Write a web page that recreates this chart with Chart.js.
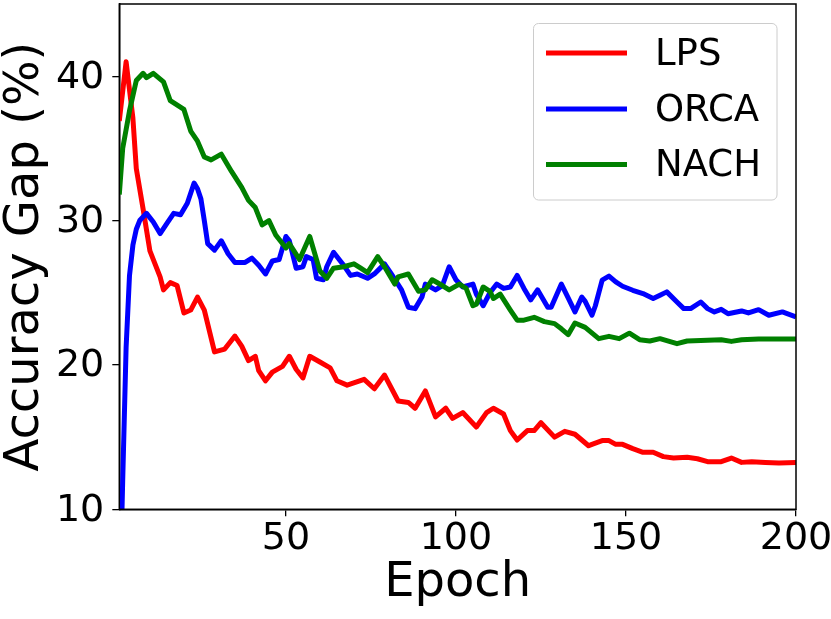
<!DOCTYPE html>
<html>
<head>
<meta charset="utf-8">
<script src="https://cdn.jsdelivr.net/npm/chart.js@4.4.1/dist/chart.umd.min.js"></script>
<style>
  html, body { margin: 0; padding: 0; background: #ffffff; }
  canvas { display: block; }
</style>
</head>
<body>
<canvas id="c" width="831" height="619"></canvas>
<script>
// ---- data ----
const seriesNames = ['LPS', 'ORCA', 'NACH'];
const seriesColors = ['#ff0000', '#0000ff', '#008000'];

const lpsEpochs = [1, 3, 5, 6, 8, 10, 13, 14, 16, 18, 20, 22, 24, 26, 29, 32, 35, 37, 39, 41, 42, 44, 46, 49, 51, 53, 55, 57, 60, 63, 65, 68, 73, 76, 79, 83, 86, 88, 91, 94, 97, 99, 102, 106, 109, 111, 114, 116, 118, 121, 123, 125, 129, 132, 135, 139, 140, 143, 145, 147, 149, 152, 155, 158, 161, 164, 168, 171, 174, 178, 181, 184, 187, 191, 195, 200];
const lpsValues = [36.9, 41.0, 37.1, 33.6, 30.8, 27.9, 26.1, 25.2, 25.7, 25.5, 23.6, 23.8, 24.7, 23.8, 20.9, 21.1, 22.0, 21.3, 20.3, 20.6, 19.6, 18.9, 19.5, 19.9, 20.6, 19.7, 19.1, 20.6, 20.2, 19.8, 18.9, 18.6, 19.0, 18.35, 19.3, 17.5, 17.4, 17.0, 18.2, 16.4, 17.0, 16.3, 16.7, 15.7, 16.7, 17.0, 16.6, 15.45, 14.8, 15.45, 15.45, 16.0, 15.0, 15.4, 15.2, 14.4, 14.5, 14.76, 14.76, 14.5, 14.5, 14.2, 13.95, 13.95, 13.65, 13.55, 13.6, 13.5, 13.3, 13.3, 13.55, 13.25, 13.3, 13.25, 13.2, 13.25];

const orcaEpochs = [1, 2, 3, 4, 5, 6, 7, 9, 11, 13, 15, 17, 19, 21, 23, 24, 25, 26, 27, 29, 31, 33, 35, 38, 40, 42, 44, 46, 48, 50, 51, 53, 55, 56, 58, 59, 61, 62, 64, 66, 67, 69, 71, 74, 76, 79, 81, 84, 86, 88, 90, 91, 94, 96, 98, 100, 102, 105, 106, 108, 110, 112, 114, 116, 118, 120, 122, 124, 127, 128, 131, 133, 135, 137, 138, 140, 141, 143, 145, 147, 149, 152, 155, 158, 160, 162, 165, 167, 169, 172, 174, 176, 178, 180, 184, 186, 189, 192, 196, 200];
const orcaValues = [2.0, 12.0, 21.2, 26.2, 28.3, 29.4, 30.0, 30.5, 29.9, 29.1, 29.8, 30.5, 30.4, 31.2, 32.6, 32.2, 31.5, 30.0, 28.4, 27.95, 28.6, 27.7, 27.1, 27.1, 27.4, 26.9, 26.3, 27.2, 27.3, 28.9, 28.6, 26.7, 26.8, 27.5, 27.3, 26.0, 25.9, 26.8, 27.8, 27.2, 26.9, 26.2, 26.3, 26.0, 26.3, 27.0, 26.3, 25.2, 24.0, 23.9, 24.7, 25.6, 25.2, 25.5, 26.8, 25.9, 25.4, 25.6, 24.9, 24.1, 25.0, 25.6, 25.3, 25.4, 26.2, 25.3, 24.5, 25.2, 24.0, 24.0, 25.6, 24.65, 23.67, 24.7, 24.4, 23.44, 24.1, 25.87, 26.15, 25.75, 25.45, 25.17, 24.94, 24.6, 24.83, 25.06, 24.36, 23.9, 23.9, 24.36, 23.9, 23.67, 23.85, 23.55, 23.74, 23.6, 23.83, 23.44, 23.67, 23.32];

const nachEpochs = [1, 2, 4, 6, 8, 9, 11, 14, 16, 20, 22, 24, 26, 28, 31, 34, 37, 39, 41, 43, 45, 47, 50, 51, 54, 57, 60, 62, 64, 67, 70, 72, 74, 77, 79, 82, 83, 86, 89, 91, 93, 96, 98, 101, 103, 105, 106, 108, 110, 111, 113, 116, 118, 120, 123, 126, 129, 131, 133, 135, 138, 142, 145, 148, 151, 154, 157, 160, 165, 168, 172, 178, 181, 184, 189, 200];
const nachValues = [31.8, 35.0, 37.6, 39.7, 40.2, 39.9, 40.2, 39.6, 38.3, 37.7, 36.2, 35.5, 34.4, 34.2, 34.6, 33.4, 32.3, 31.4, 30.9, 29.7, 30.0, 29.0, 28.1, 28.4, 27.3, 28.9, 26.5, 26.0, 26.7, 26.8, 27.0, 26.7, 26.4, 27.5, 26.8, 25.6, 26.1, 26.3, 25.1, 25.2, 25.9, 25.5, 25.2, 25.6, 25.3, 24.1, 24.2, 25.4, 25.1, 24.6, 24.9, 23.8, 23.1, 23.1, 23.3, 23.0, 22.86, 22.5, 22.1, 22.9, 22.6, 21.82, 21.98, 21.82, 22.2, 21.75, 21.66, 21.82, 21.47, 21.66, 21.7, 21.75, 21.63, 21.75, 21.8, 21.8];

const xTickValues = [50, 100, 150, 200];
const yTickValues = [10, 20, 30, 40];
const xTitle = 'Epoch';
const yTitle = 'Accuracy Gap (%)';

// ---- chart ----
const FONT = "'DejaVu Sans', 'Liberation Sans', sans-serif";
function pts(ep, vals) { return ep.map((e, i) => ({ x: e, y: vals[i] })); }

const allEpochs = [lpsEpochs, orcaEpochs, nachEpochs];
const allValues = [lpsValues, orcaValues, nachValues];

const datasets = seriesNames.map((name, i) => ({
  label: name,
  data: pts(allEpochs[i], allValues[i]),
  borderColor: seriesColors[i],
  backgroundColor: seriesColors[i],
  borderWidth: 5,
  pointRadius: 0,
  tension: 0,
  fill: false,
  borderJoinStyle: 'round',
  borderCapStyle: 'butt',
  order: seriesNames.length - 1 - i
}));

const framePlugin = {
  id: 'frameAndLegend',
  afterDraw(chart) {
    const { ctx, chartArea: a } = chart;
    ctx.save();
    ctx.strokeStyle = '#000';
    ctx.lineWidth = 1.5;
    ctx.strokeRect(a.left, a.top, a.right - a.left, a.bottom - a.top);

    // legend box (matplotlib style)
    const bx = 533.5, by = 23.5, bw = 243.5, bh = 176.5, r = 5;
    ctx.beginPath();
    ctx.moveTo(bx + r, by);
    ctx.lineTo(bx + bw - r, by);
    ctx.arcTo(bx + bw, by, bx + bw, by + r, r);
    ctx.lineTo(bx + bw, by + bh - r);
    ctx.arcTo(bx + bw, by + bh, bx + bw - r, by + bh, r);
    ctx.lineTo(bx + r, by + bh);
    ctx.arcTo(bx, by + bh, bx, by + bh - r, r);
    ctx.lineTo(bx, by + r);
    ctx.arcTo(bx, by, bx + r, by, r);
    ctx.closePath();
    ctx.fillStyle = 'rgba(255,255,255,0.8)';
    ctx.fill();
    ctx.strokeStyle = '#cccccc';
    ctx.lineWidth = 1;
    ctx.stroke();

    const rowY = [53, 109, 164.5];
    const baseY = [65, 120.7, 176.3];
    ctx.font = '37px ' + FONT;
    ctx.textAlign = 'left';
    ctx.textBaseline = 'alphabetic';
    seriesNames.forEach((n, i) => {
      ctx.strokeStyle = seriesColors[i];
      ctx.lineWidth = 5;
      ctx.beginPath();
      ctx.moveTo(546, rowY[i]);
      ctx.lineTo(627, rowY[i]);
      ctx.stroke();
      ctx.fillStyle = '#000';
      ctx.fillText(n, 655, baseY[i]);
    });
    ctx.restore();
  }
};

new Chart(document.getElementById('c'), {
  type: 'line',
  data: { datasets },
  plugins: [framePlugin],
  options: {
    responsive: false,
    animation: false,
    devicePixelRatio: 1,
    layout: { padding: { top: 4, right: 35, left: 0, bottom: 0 } },
    plugins: { legend: { display: false }, tooltip: { enabled: false } },
    scales: {
      x: {
        type: 'linear',
        min: 1,
        max: 200,
        afterBuildTicks: s => { s.ticks = xTickValues.map(v => ({ value: v })); },
        afterFit: s => { s.height = 109.7; s.paddingLeft = 0; s.paddingRight = 0; },
        grid: { drawOnChartArea: false, drawTicks: true, tickLength: 7, color: '#000', lineWidth: 1.3 },
        border: { display: true, color: '#000', width: 1.5 },
        ticks: { font: { family: FONT, size: 38 }, color: '#000', padding: 0, maxRotation: 0, autoSkip: false },
        title: { display: true, text: xTitle, font: { family: FONT, size: 48 }, color: '#000', padding: { top: 0, bottom: 7 } }
      },
      y: {
        type: 'linear',
        min: 10,
        max: 45,
        afterBuildTicks: s => { s.ticks = yTickValues.map(v => ({ value: v })); },
        afterFit: s => { s.width = 119.3; s.paddingTop = 0; s.paddingBottom = 0; },
        grid: { drawOnChartArea: false, drawTicks: true, tickLength: 7, color: '#000', lineWidth: 1.3 },
        border: { display: true, color: '#000', width: 1.5 },
        ticks: { font: { family: FONT, size: 38 }, color: '#000', padding: 8, labelOffset: 1.5, autoSkip: false },
        title: { display: true, text: yTitle, font: { family: FONT, size: 48 }, color: '#000', padding: { top: -3, bottom: 0 } }
      }
    }
  }
});
</script>
</body>
</html>
